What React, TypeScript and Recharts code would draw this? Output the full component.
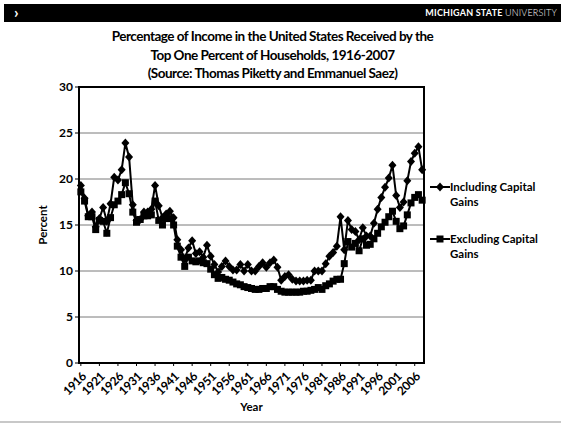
import React from "react";
import { LineChart, Line, XAxis, YAxis, CartesianGrid, ReferenceArea } from "recharts";

const years = Array.from({ length: 93 }, (_, i) => 1916 + i);
const tickYears = [1916, 1921, 1926, 1931, 1936, 1941, 1946, 1951, 1956, 1961, 1966, 1971, 1976, 1981, 1986, 1991, 1996, 2001, 2006];
const yTicks = [0, 5, 10, 15, 20, 25, 30];

// top 1% income share, including capital gains (1916-2008)
const includingGains = [
  19.3, 17.9, 16.0, 16.4, 14.8, 15.7, 16.9, 15.4, 17.3, 20.2,
  19.9, 21.0, 23.9, 22.4, 17.2, 15.5, 15.6, 16.4, 16.4, 16.7,
  19.3, 17.1, 15.8, 16.2, 16.5, 15.8, 13.4, 12.3, 11.3, 12.5,
  13.3, 11.9, 12.1, 11.5, 12.8, 11.6, 10.7, 9.9, 10.5, 11.1,
  10.5, 10.1, 10.1, 10.7, 10.0, 10.7, 10.0, 10.0, 10.5, 10.9,
  10.4, 10.9, 11.2, 10.4, 9.0, 9.4, 9.6, 9.1, 8.9, 8.9,
  8.9, 9.0, 9.0, 10.0, 10.0, 10.0, 10.8, 11.6, 12.0, 12.7,
  15.9, 12.3, 15.5, 14.5, 14.3, 13.4, 14.7, 13.8, 13.8, 15.2,
  16.7, 18.0, 19.1, 20.1, 21.5, 18.2, 16.9, 17.5, 19.8, 21.9,
  22.8, 23.5, 21.0,
];

// top 1% income share, excluding capital gains (1916-2008)
const excludingGains = [
  18.6, 17.6, 15.9, 15.9, 14.5, 15.5, 15.4, 14.1, 15.8, 17.2,
  17.6, 18.3, 19.6, 18.4, 16.4, 15.3, 15.6, 16.0, 16.0, 16.1,
  17.6, 15.5, 15.0, 15.7, 15.7, 15.0, 12.7, 11.5, 10.5, 11.5,
  11.1, 11.0, 11.1, 10.9, 10.8, 10.2, 9.6, 9.2, 9.3, 9.1,
  9.0, 8.8, 8.6, 8.5, 8.3, 8.2, 8.1, 8.0, 8.0, 8.1,
  8.1, 8.3, 8.3, 8.0, 7.8, 7.7, 7.7, 7.7, 7.7, 7.7,
  7.8, 7.8, 7.9, 8.0, 8.2, 8.0, 8.4, 8.6, 8.9, 9.1,
  9.1, 10.8, 13.2, 12.6, 13.0, 12.2, 13.5, 12.8, 12.9, 13.5,
  14.1, 14.8, 15.3, 15.9, 16.5, 15.4, 14.6, 14.9, 16.1, 17.4,
  18.0, 18.3, 17.7,
];

const seriesLabels = [
  ["Including Capital", "Gains"],
  ["Excluding Capital", "Gains"],
];

const data = years.map((year, i) => ({
  year,
  incl: includingGains[i],
  excl: excludingGains[i],
}));

const FONT = "Lato, 'Open Sans', sans-serif";

const Diamond = (props: any) => {
  const { cx, cy, index } = props;
  if (cx == null || cy == null) return <g key={index} />;
  return <path key={index} d={`M${cx},${cy - 4.5}L${cx + 4},${cy}L${cx},${cy + 4.5}L${cx - 4},${cy}Z`} fill="#000" />;
};

const Square = (props: any) => {
  const { cx, cy, index } = props;
  if (cx == null || cy == null) return <g key={index} />;
  return <rect key={index} x={cx - 3.5} y={cy - 3.5} width={7} height={7} fill="#000" />;
};

const YearTick = (props: any) => {
  const { x, y, payload } = props;
  return (
    <text x={x + 3} y={y + 6} transform={`rotate(-45 ${x + 3} ${y + 6})`} textAnchor="end" dominantBaseline="central"
      fontSize={12} fontWeight={700} fontFamily={FONT} fill="#000" letterSpacing={-0.3}>
      {payload.value}
    </text>
  );
};

const ChartLegend = () => (
  <div style={{ position: "absolute", left: 430, top: 179, width: 125, fontFamily: FONT, fontWeight: 700, fontSize: 11.5, lineHeight: "15px" }}>
    {seriesLabels.map((label, i) => (
      <div key={i} style={{ display: "flex", alignItems: "flex-start", marginBottom: 22 }}>
        <svg width={20} height={14} style={{ flex: "none" }}>
          <line x1={0} y1={8} x2={20} y2={8} stroke="#000" strokeWidth={2} />
          {i === 0 ? (
            <path d="M10,3.5L14,8L10,12.5L6,8Z" fill="#000" />
          ) : (
            <rect x={6.5} y={4.5} width={7} height={7} fill="#000" />
          )}
        </svg>
        <div>
          {label[0]}
          <br />
          {label[1]}
        </div>
      </div>
    ))}
  </div>
);

export default function App() {
  return (
    <div style={{ position: "absolute", left: 0, top: 0, width: 561, height: 426, background: "#fff", overflow: "hidden" }}>
      {/* header bar */}
      <div style={{ position: "absolute", left: 4, top: 4, width: 557, height: 18, background: "#000" }} />
      <div style={{ position: "absolute", left: 14, top: 2, color: "#fff", fontFamily: FONT, fontWeight: 700, fontSize: 16 }}>›</div>
      <div style={{ position: "absolute", right: 4, top: 7, color: "#fff", fontFamily: FONT, fontSize: 9, letterSpacing: 0.2 }}>
        <span style={{ fontWeight: 700 }}>MICHIGAN STATE </span>
        <span style={{ fontWeight: 300 }}>UNIVERSITY</span>
      </div>
      <div style={{ position: "absolute", left: 0, top: 421, width: 561, height: 2, background: "#c8c8c8" }} />

      {/* title */}
      <div style={{ position: "absolute", left: 0, top: 27, width: 545, textAlign: "center", fontFamily: FONT, fontWeight: 700, fontSize: 13.5, letterSpacing: -0.5, lineHeight: "18.5px", color: "#000" }}>
        Percentage of Income in the United States Received by the
        <br />
        Top One Percent of Households, 1916-2007
        <br />
        (Source: Thomas Piketty and Emmanuel Saez)
      </div>

      {/* y axis title */}
      <div style={{ position: "absolute", left: 42, top: 225, transform: "translate(-50%, -50%) rotate(-90deg)", fontFamily: FONT, fontWeight: 700, fontSize: 11.5, color: "#000" }}>
        Percent
      </div>

      <div style={{ position: "absolute", left: 0, top: 0 }}>
        <LineChart width={561} height={426} data={data} margin={{ top: 87, right: 137, bottom: 21, left: 49 }}>
          <CartesianGrid vertical={false} stroke="#7a7a7a" strokeWidth={1} />
          <XAxis
            dataKey="year"
            type="number"
            domain={[1915.5, 2008.5]}
            ticks={tickYears}
            interval={0}
            height={42}
            tick={<YearTick />}
            tickLine={{ stroke: "#000" }}
            tickSize={3}
            axisLine={{ stroke: "#000", strokeWidth: 2 }}
            label={{ value: "Year", position: "bottom", offset: -2, fontFamily: FONT, fontWeight: 700, fontSize: 11.5, fill: "#000" }}
          />
          <YAxis
            domain={[0, 30]}
            ticks={yTicks}
            width={30}
            tick={{ fontFamily: FONT, fontWeight: 700, fontSize: 12, fill: "#000" }}
            tickLine={{ stroke: "#000" }}
            tickSize={4}
            axisLine={{ stroke: "#000", strokeWidth: 2 }}
          />
          <ReferenceArea x1={1915.5} x2={2008.5} y1={0} y2={30} fill="none" stroke="#000" strokeWidth={2} ifOverflow="visible" />
          <Line
            type="linear"
            dataKey="incl"
            name="Including Capital Gains"
            stroke="#000"
            strokeWidth={2}
            dot={<Diamond />}
            isAnimationActive={false}
          />
          <Line
            type="linear"
            dataKey="excl"
            name="Excluding Capital Gains"
            stroke="#000"
            strokeWidth={2}
            dot={<Square />}
            isAnimationActive={false}
          />
        </LineChart>
      </div>
      <ChartLegend />
    </div>
  );
}
